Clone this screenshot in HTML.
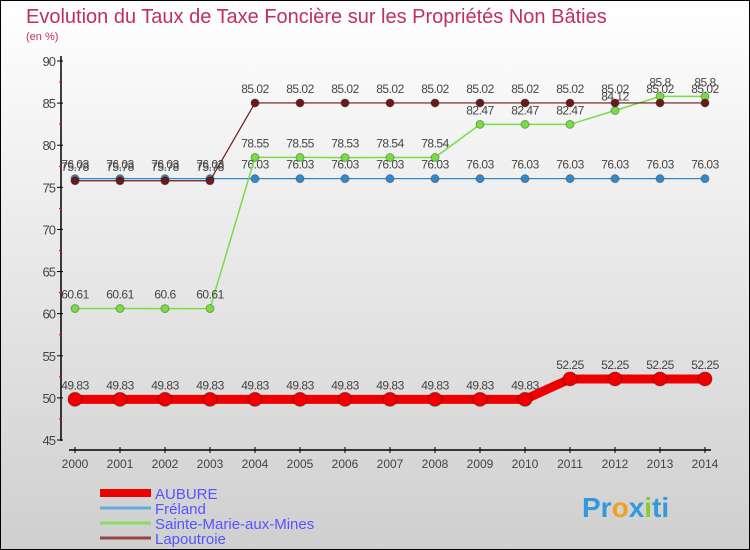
<!DOCTYPE html>
<html><head><meta charset="utf-8"><style>
body{margin:0}
#c{width:750px;height:550px;position:relative;overflow:hidden}
svg{font-family:"Liberation Sans",sans-serif}
</style></head><body>
<div id="c">
<svg id="s" width="750" height="550" xmlns="http://www.w3.org/2000/svg">
<defs><linearGradient id="bg" x1="0" y1="0" x2="0" y2="1"><stop offset="0" stop-color="#ffffff"/><stop offset="1" stop-color="#cfcfcf"/></linearGradient></defs>
<rect x="0.5" y="0.5" width="749" height="549" fill="url(#bg)" stroke="#000"/>
<text x="26" y="23" font-size="20" fill="#c0305a">Evolution du Taux de Taxe Foncière sur les Propriétés Non Bâties</text>
<text x="26" y="40" font-size="11" fill="#c0305a">(en %)</text>
<g id="axes"></g><g id="series"></g><g id="legend"></g>
<text x="582" y="517" font-size="28" font-weight="bold" fill="#3399dd">Pr<tspan fill="#f0a020">o</tspan>x<tspan fill="#88cc33">i</tspan>ti</text>
</svg></div>
<script>
const years=[2000,2001,2002,2003,2004,2005,2006,2007,2008,2009,2010,2011,2012,2013,2014];
const yTicks=[45,50,55,60,65,70,75,80,85,90];
const aubure=[49.83,49.83,49.83,49.83,49.83,49.83,49.83,49.83,49.83,49.83,49.83,52.25,52.25,52.25,52.25];
const freland=[76.03,76.03,76.03,76.03,76.03,76.03,76.03,76.03,76.03,76.03,76.03,76.03,76.03,76.03,76.03];
const sainteMarie=[60.61,60.61,60.6,60.61,78.55,78.55,78.53,78.54,78.54,82.47,82.47,82.47,84.12,85.8,85.8];
const lapoutroie=[75.78,75.78,75.78,75.78,85.02,85.02,85.02,85.02,85.02,85.02,85.02,85.02,85.02,85.02,85.02];
const names=["AUBURE","Fréland","Sainte-Marie-aux-Mines","Lapoutroie"];
const NS="http://www.w3.org/2000/svg";
const X=i=>75+i*45, Y=v=>61+(90-v)*(379/45);
function mk(p,t,a){const e=document.createElementNS(NS,t);for(const k in a)e.setAttribute(k,a[k]);p.appendChild(e);return e;}
const ax=document.getElementById('axes');
let e=mk(ax,'line',{x1:61,y1:56,x2:61,y2:441,stroke:'#000','stroke-width':1.5});

e=mk(ax,'line',{x1:69,y1:450,x2:711,y2:450,stroke:'#000','stroke-width':1.5});

yTicks.forEach(v=>{mk(ax,'line',{x1:57,y1:Y(v),x2:63,y2:Y(v),stroke:'#000'});
 if(v<90)mk(ax,'line',{x1:59,y1:Y(v+2.5),x2:62,y2:Y(v+2.5),stroke:'#e00'});
 const t=mk(ax,'text',{x:55,y:Y(v)+5,'font-size':13,fill:'#444','text-anchor':'end','letter-spacing':'-1'});t.textContent=v;
 });
years.forEach((y,i)=>{mk(ax,'line',{x1:X(i),y1:447,x2:X(i),y2:453,stroke:'#000'});
 const t=mk(ax,'text',{x:X(i),y:468,'font-size':12,fill:'#444','text-anchor':'middle'});t.textContent=y;
 });
const sg=document.getElementById('series');
function series(d,col,lw,r,nm){const g=mk(sg,'g',{});
 
 mk(g,'polyline',{points:d.map((v,i)=>X(i)+','+Y(v)).join(' '),fill:'none',stroke:col,'stroke-width':lw});
 d.forEach((v,i)=>{const c=mk(g,'circle',{cx:X(i),cy:Y(v),r:r,fill:col,stroke:'rgba(0,0,0,0.3)'});
  
  const t=mk(g,'text',{x:X(i),y:Y(v)-10,'font-size':12,fill:'#444','text-anchor':'middle','letter-spacing':'-0.5'});t.textContent=v;
  });}
series(freland,'#3388cc',1.2,4,'freland');
series(sainteMarie,'#77dd44',1.5,4,'sainte-marie');
series(lapoutroie,'#6b1a1a',1.2,4,'lapoutroie');
series(aubure,'#ee0000',9,7,'aubure');
const lg=document.getElementById('legend');
const cols=['#ee0000','#66aadd','#88dd66','#994444'],lws=[8,3,3,3];
names.forEach((n,i)=>{const y=493+i*15;const g=mk(lg,'g',{});
 
 mk(g,'line',{x1:100,y1:y,x2:151,y2:y,stroke:cols[i],'stroke-width':lws[i]});
 const t=mk(g,'text',{x:155,y:y+6,'font-size':15,fill:'#5555ff'});t.textContent=n;});
</script></body></html>
